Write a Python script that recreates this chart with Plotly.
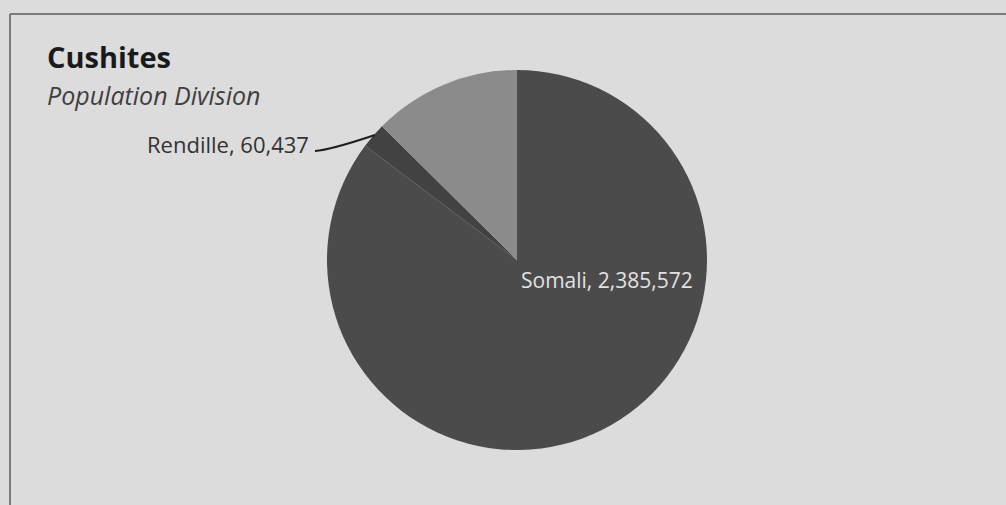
import plotly.graph_objects as go

# Population figures for the Cushitic groups
groups = ["Somali", "Rendille", "Other Cushites"]
population = [2385572, 60437, 352000]
slice_colors = ["#4b4b4b", "#424242", "#8b8b8b"]

W, H = 1006, 505


def px(x, y):
    """Convert pixel position (from top-left) to paper coordinates."""
    return x / W, 1 - y / H


cx, cy, r = 517, 260, 190
x0, y_top = px(cx - r, cy - r)
x1, y_bot = px(cx + r, cy + r)

fig = go.Figure(
    go.Pie(
        labels=groups,
        values=population,
        sort=False,
        direction="clockwise",
        rotation=0,
        marker=dict(colors=slice_colors, line=dict(width=0)),
        textinfo="none",
        hoverinfo="skip",
        showlegend=False,
        domain=dict(x=[x0, x1], y=[y_bot, y_top]),
    )
)

font_family = "Open Sans, Lato, sans-serif"
values = dict(zip(groups, population))

annotations = []
# Title and subtitle
tx, ty = px(45, 56.5)
annotations.append(dict(text="<b>Cushites</b>", x=tx, y=ty, xanchor="left", yanchor="middle",
                        font=dict(family=font_family, size=29, color="#1a1a1a")))
sx, sy = px(45, 95.5)
annotations.append(dict(text="<i>Population Division</i>", x=sx, y=sy, xanchor="left", yanchor="middle",
                        font=dict(family=font_family, size=25, color="#3f3f3f")))

# Somali label inside the large slice
lx, ly = px(606.5, 279.5)
annotations.append(dict(text=f"Somali, {values['Somali']:,}", x=lx, y=ly, xanchor="center", yanchor="middle",
                        font=dict(family=font_family, size=21, color="#e2e2e2")))
# Rendille label outside with a leader line
rx, ry = px(311, 144)
annotations.append(dict(text=f"Rendille, {values['Rendille']:,}", x=rx, y=ry, xanchor="right", yanchor="middle",
                        font=dict(family=font_family, size=22, color="#333333")))

for a in annotations:
    a.update(xref="paper", yref="paper", showarrow=False)

shapes = []
# Leader line from the Rendille label to its slice
pts = [px(315, 151), px(330, 150), px(375, 135)]
path = "M {} {} Q {} {} {} {}".format(pts[0][0], pts[0][1], pts[1][0], pts[1][1], pts[2][0], pts[2][1])
shapes.append(dict(type="path", path=path, xref="paper", yref="paper",
                   line=dict(color="#1e1e1e", width=2)))

# Frame lines around the chart area
fx0, fy0 = px(10, 14)
fx1, _ = px(W, 14)
_, fy1 = px(10, H)
shapes.append(dict(type="line", x0=fx0, y0=fy0, x1=fx1, y1=fy0, xref="paper", yref="paper",
                   line=dict(color="#7a7a7a", width=2)))
shapes.append(dict(type="line", x0=fx0, y0=fy0, x1=fx0, y1=fy1, xref="paper", yref="paper",
                   line=dict(color="#7a7a7a", width=2)))

fig.update_layout(
    width=W,
    height=H,
    margin=dict(l=0, r=0, t=0, b=0),
    paper_bgcolor="#dcdcdc",
    plot_bgcolor="#dcdcdc",
    annotations=annotations,
    shapes=shapes,
)

fig.write_html("out.html", config=dict(displayModeBar=False))
